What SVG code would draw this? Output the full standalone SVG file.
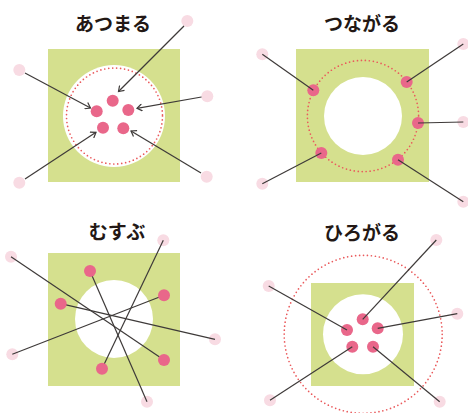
<svg xmlns="http://www.w3.org/2000/svg" width="468" height="413" viewBox="0 0 468 413">
<style>
.bg{fill:#d5e08e}
.hole{fill:#fff}
.ring{fill:none;stroke:#ea5a5c;stroke-width:1.7;stroke-linecap:round;stroke-dasharray:0 4}
.dot{fill:#e9678a}
.end{fill:#f8dbe3}
.ln{stroke:#3e3a39;stroke-width:1.2;fill:none}
.title{font-family:"Noto Sans CJK JP","Noto Sans",sans-serif;font-weight:bold;font-size:19px;fill:#231815;text-anchor:middle}
</style>
<defs>
<marker id="arr" markerWidth="8" markerHeight="8" refX="6" refY="4" orient="auto" markerUnits="userSpaceOnUse">
<path d="M1,0.5 L6,4 L1,7.5" fill="none" stroke="#3e3a39" stroke-width="1.2"/>
</marker>
</defs>
<rect width="468" height="413" fill="#fff"/>

<g id="atsumaru">
<text class="title" x="113" y="31">あつまる</text>
<rect class="bg" x="48" y="49" width="132" height="133"/>
<circle class="hole" cx="114" cy="116" r="51"/>
<circle class="ring" cx="114.5" cy="116" r="48"/>
<circle class="dot" cx="112.7" cy="100.7" r="6"/>
<circle class="dot" cx="96.7" cy="111.3" r="6"/>
<circle class="dot" cx="128.3" cy="110" r="6"/>
<circle class="dot" cx="103" cy="127.7" r="6"/>
<circle class="dot" cx="123.3" cy="128.3" r="6"/>
<circle class="end" cx="187.3" cy="21" r="6"/>
<circle class="end" cx="19.3" cy="70" r="6"/>
<circle class="end" cx="207.3" cy="96.3" r="6"/>
<circle class="end" cx="19.3" cy="182.7" r="6"/>
<circle class="end" cx="206.7" cy="176.7" r="6"/>
</g>

<g id="tsunagaru">
<text class="title" x="362" y="31">つながる</text>
<rect class="bg" x="296" y="49" width="133" height="133"/>
<circle class="hole" cx="363" cy="116" r="39"/>
<circle class="ring" cx="363" cy="116" r="55.6"/>
<circle class="dot" cx="313.3" cy="90.3" r="6"/>
<circle class="dot" cx="406.7" cy="82" r="6"/>
<circle class="dot" cx="418" cy="123" r="6"/>
<circle class="dot" cx="321.3" cy="153" r="6"/>
<circle class="dot" cx="398" cy="159.7" r="6"/>
<circle class="end" cx="262.3" cy="54.3" r="6"/>
<circle class="end" cx="463.3" cy="44" r="6"/>
<circle class="end" cx="463.3" cy="122" r="6"/>
<circle class="end" cx="262.3" cy="183.7" r="6"/>
<circle class="end" cx="463.3" cy="201.7" r="6"/>
</g>

<g id="musubu">
<text class="title" x="117" y="239">むすぶ</text>
<rect class="bg" x="48" y="253" width="132" height="133"/>
<circle class="hole" cx="114" cy="319" r="39"/>
<circle class="end" cx="11" cy="256.7" r="6"/>
<circle class="end" cx="163.3" cy="240.3" r="6"/>
<circle class="end" cx="12.3" cy="354.3" r="6"/>
<circle class="end" cx="215" cy="339.3" r="6"/>
<circle class="end" cx="147" cy="401.7" r="6"/>
</g>

<g id="hirogaru">
<text class="title" x="362" y="240">ひろがる</text>
<circle class="ring" cx="363.2" cy="334.3" r="79"/>
<rect class="bg" x="311" y="283" width="103" height="103"/>
<circle class="hole" cx="363" cy="334.3" r="40"/>
<circle class="dot" cx="362.7" cy="319.3" r="6"/>
<circle class="dot" cx="347" cy="330" r="6"/>
<circle class="dot" cx="377.7" cy="328.3" r="6"/>
<circle class="dot" cx="352.3" cy="346.7" r="6"/>
<circle class="dot" cx="373" cy="346.7" r="6"/>
<circle class="end" cx="436.3" cy="240" r="6"/>
<circle class="end" cx="268.7" cy="286" r="6"/>
<circle class="end" cx="457.3" cy="313.7" r="6"/>
<circle class="end" cx="270" cy="400.3" r="6"/>
<circle class="end" cx="439.7" cy="401.7" r="6"/>
</g>

<g id="connectors">
<line class="ln" x1="184" y1="26" x2="118.5" y2="91.5" marker-end="url(#arr)"/>
<line class="ln" x1="25" y1="73" x2="90.5" y2="108" marker-end="url(#arr)"/>
<line class="ln" x1="201.5" y1="97" x2="137" y2="108.3" marker-end="url(#arr)"/>
<line class="ln" x1="25" y1="179" x2="96" y2="132.3" marker-end="url(#arr)"/>
<line class="ln" x1="201" y1="173" x2="131" y2="131" marker-end="url(#arr)"/>

<line class="ln" x1="262.3" y1="54.3" x2="313.3" y2="90.3"/>
<line class="ln" x1="463.3" y1="44" x2="406.7" y2="82"/>
<line class="ln" x1="463.3" y1="122" x2="418" y2="123"/>
<line class="ln" x1="262.3" y1="183.7" x2="321.3" y2="153"/>
<line class="ln" x1="463.3" y1="201.7" x2="398" y2="159.7"/>

<line class="ln" x1="11" y1="256.7" x2="164" y2="360"/>
<line class="ln" x1="163.3" y1="240.3" x2="102" y2="368.7"/>
<line class="ln" x1="12.3" y1="354.3" x2="164" y2="295.3"/>
<line class="ln" x1="215" y1="339.3" x2="60.7" y2="303.7"/>
<line class="ln" x1="147" y1="401.7" x2="90" y2="271"/>

<line class="ln" x1="436.3" y1="240" x2="362.7" y2="319.3"/>
<line class="ln" x1="268.7" y1="286" x2="347" y2="330"/>
<line class="ln" x1="457.3" y1="313.7" x2="377.7" y2="328.3"/>
<line class="ln" x1="270" y1="400.3" x2="352.3" y2="346.7"/>
<line class="ln" x1="439.7" y1="401.7" x2="373" y2="346.7"/>
</g>

<g id="musubu-dots">
<circle class="dot" cx="90" cy="271" r="6"/>
<circle class="dot" cx="60.7" cy="303.7" r="6"/>
<circle class="dot" cx="164" cy="295.3" r="6"/>
<circle class="dot" cx="164" cy="360" r="6"/>
<circle class="dot" cx="102" cy="368.7" r="6"/>
</g>
</svg>
